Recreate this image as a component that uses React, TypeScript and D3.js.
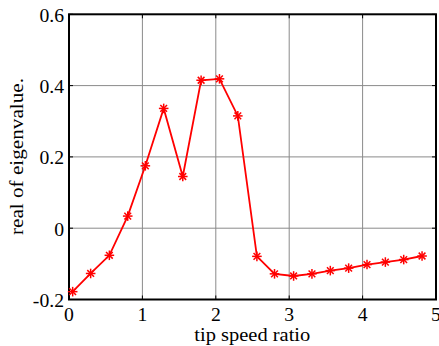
import React from "react";
import * as d3 from "d3";

const tsr = [0.05, 0.295, 0.55, 0.8, 1.04, 1.29, 1.55, 1.8, 2.05, 2.3, 2.56, 2.8, 3.06, 3.31, 3.56, 3.81, 4.06, 4.31, 4.56, 4.81];
const realEig = [-0.178, -0.127, -0.076, 0.034, 0.175, 0.336, 0.145, 0.415, 0.419, 0.315, -0.079, -0.128, -0.134, -0.128, -0.119, -0.112, -0.102, -0.095, -0.088, -0.078];
const xTicks = [0, 1, 2, 3, 4, 5];
const yTicks = [-0.2, 0, 0.2, 0.4, 0.6];
const xLabel = "tip speed ratio";
const yLabel = "real of eigenvalue.";

export default function App() {
  const W = 439, H = 346;
  const L = 69, R = 436, T = 14.3, B = 299.5;
  const x = d3.scaleLinear().domain([0, 5]).range([L, R]);
  const y = d3.scaleLinear().domain([-0.2, 0.6]).range([B, T]);
  const pts = tsr.map((v, i) => [x(v), y(realEig[i])] as [number, number]);
  const line = d3.line()(pts) || "";
  const fam = '"Liberation Serif", "Times New Roman", Times, serif';
  const ts: React.CSSProperties = { fontFamily: fam, fontSize: "19.7px" };
  const ls: React.CSSProperties = { fontFamily: fam, fontSize: "18.5px" };
  const star = (cx: number, cy: number, k: number) => {
    const r = 4.8;
    const a = r * 0.7;
    return (
      <g key={k} stroke="#ff0000" strokeWidth={1.5}>
        <line x1={cx - r} y1={cy} x2={cx + r} y2={cy} />
        <line x1={cx} y1={cy - r} x2={cx} y2={cy + r} />
        <line x1={cx - a} y1={cy - a} x2={cx + a} y2={cy + a} />
        <line x1={cx - a} y1={cy + a} x2={cx + a} y2={cy - a} />
      </g>
    );
  };
  const fmt = (v: number) => (v === 0 ? "0" : v.toFixed(1));
  return (
    <svg width={W} height={H} style={{ position: "absolute", left: 0, top: 0, background: "#fff" }}>
      <rect x={0} y={0} width={W} height={H} fill="#fff" />
      {xTicks.slice(1, -1).map((t) => (
        <line key={"gx" + t} x1={x(t)} x2={x(t)} y1={T} y2={B} stroke="#8a8a8a" strokeWidth={1} />
      ))}
      {yTicks.slice(1, -1).map((t) => (
        <line key={"gy" + t} x1={L} x2={R} y1={y(t)} y2={y(t)} stroke="#8a8a8a" strokeWidth={1} />
      ))}
      {xTicks.map((t) => (
        <g key={"tx" + t}>
          <line x1={x(t)} x2={x(t)} y1={B} y2={B - 4} stroke="#000" strokeWidth={1} />
          <line x1={x(t)} x2={x(t)} y1={T} y2={T + 4} stroke="#000" strokeWidth={1} />
          <text x={x(t)} y={B + 21} style={ts} textAnchor="middle">{t}</text>
        </g>
      ))}
      {yTicks.map((t) => (
        <g key={"ty" + t}>
          <line x1={L} x2={L + 4} y1={y(t)} y2={y(t)} stroke="#000" strokeWidth={1} />
          <line x1={R} x2={R - 4} y1={y(t)} y2={y(t)} stroke="#000" strokeWidth={1} />
          <text x={64} y={y(t) + 7.3} style={ts} textAnchor="end">{fmt(t)}</text>
        </g>
      ))}
      <rect x={L} y={T} width={R - L} height={B - T} fill="none" stroke="#000" strokeWidth={2} />
      <path d={line} fill="none" stroke="#ff0000" strokeWidth={1.8} />
      {pts.map((p, i) => star(p[0], p[1], i))}
      <text x={194.3} y={341} style={ls} textLength={116} lengthAdjust="spacingAndGlyphs">{xLabel}</text>
      <text transform={`translate(22.5,235) rotate(-90)`} style={ls} textLength={157} lengthAdjust="spacingAndGlyphs">{yLabel}</text>
    </svg>
  );
}
